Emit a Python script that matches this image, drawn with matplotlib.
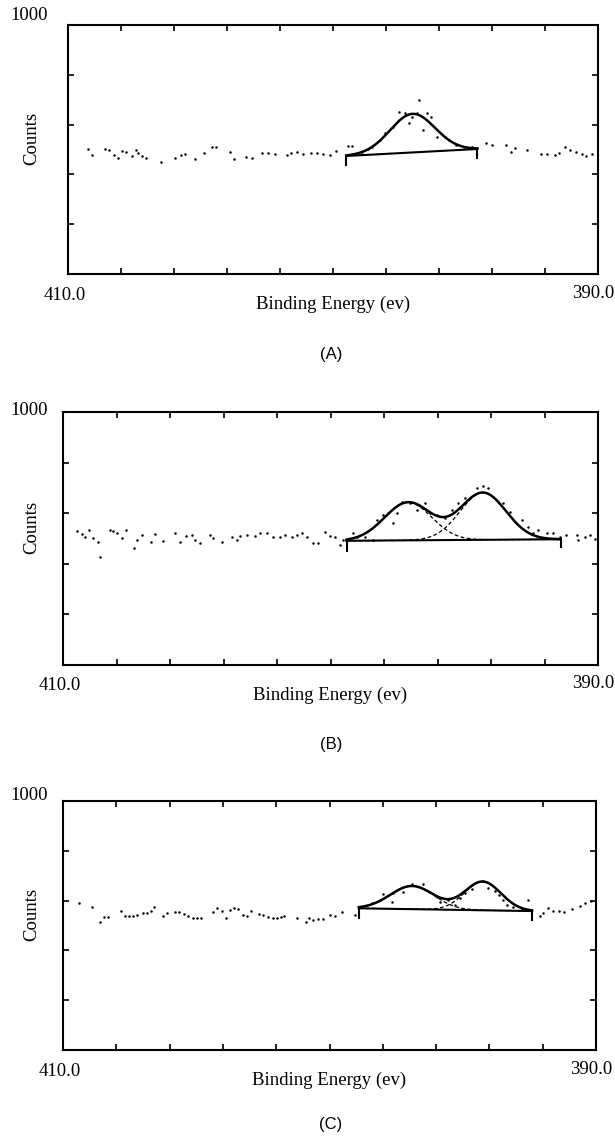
import matplotlib
matplotlib.use("Agg")
import matplotlib.pyplot as plt
import numpy as np

W, H = 615, 1136
SERIF = ["Liberation Serif", "DejaVu Serif"]
SANS = ["Liberation Sans", "DejaVu Sans"]

# ── raw spectrum points (energy, counts) ──
A_E = [409.23, 409.08, 408.59, 408.44, 408.26, 408.11, 407.97, 407.82, 407.59, 407.45,
       407.37, 407.22, 407.07, 406.48, 405.96, 405.74, 405.59, 405.22, 404.85, 404.55,
       404.40, 403.88, 403.73, 403.29, 403.07, 402.69, 402.47, 402.17, 401.73, 401.58,
       401.36, 401.14, 400.84, 400.62, 400.39, 400.10, 399.87, 399.43, 399.28, 398.91,
       398.69, 398.54, 398.24, 398.02, 397.72, 397.50, 397.28, 397.13, 397.01, 396.83,
       396.76, 396.61, 396.46, 396.31, 396.09, 395.79, 395.64, 395.35, 395.05, 394.75,
       394.23, 394.01, 393.49, 393.27, 393.12, 392.67, 392.15, 391.93, 391.63, 391.48,
       391.26, 391.04, 390.82, 390.59, 390.44, 390.22]
A_C = [502, 478, 502, 498, 478, 467, 495, 491, 474, 498,
       485, 474, 467, 451, 465, 478, 482, 461, 485, 509,
       511, 491, 461, 471, 467, 485, 487, 481, 478, 485,
       491, 482, 485, 485, 482, 478, 495, 515, 515, 481,
       501, 511, 538, 568, 592, 649, 648, 605, 632, 645,
       699, 578, 648, 632, 552, 552, 538, 518, 511, 511,
       525, 518, 518, 491, 505, 498, 482, 482, 478, 487,
       509, 498, 491, 482, 474, 482]

B_E = [409.49, 409.30, 409.18, 409.02, 408.87, 408.70, 408.62, 408.24, 408.12, 407.97,
       407.81, 407.64, 407.35, 407.25, 407.06, 406.72, 406.56, 406.25, 405.81, 405.63,
       405.40, 405.19, 405.07, 404.88, 404.50, 404.38, 404.07, 403.69, 403.51, 403.38,
       403.13, 402.82, 402.64, 402.39, 402.14, 401.89, 401.70, 401.45, 401.26, 401.08,
       400.89, 400.64, 400.46, 400.21, 400.02, 399.83, 399.64,
       399.52, 399.15, 399.02, 398.71, 398.40, 398.27, 398.02, 397.84, 397.65, 397.53,
       397.34, 397.03, 396.75, 396.47, 396.28, 396.03, 395.72, 395.47, 395.22, 394.97,
       394.54, 394.29, 394.10, 393.91, 393.54, 393.29, 392.85, 392.60, 392.42, 392.23,
       391.92, 391.67, 391.42, 391.20, 390.80, 390.74, 390.50, 390.30, 390.10]
B_C = [531, 518, 507, 534, 501, 487, 428, 534, 531, 520,
       501, 534, 461, 494, 514, 487, 518, 491, 520, 487,
       510, 514, 494, 481, 514, 501, 487, 505, 494, 510,
       514, 510, 520, 520, 507, 507, 514, 505, 514, 523,
       505, 483, 481, 527, 510, 505, 474,
       494, 520, 507, 507, 494, 573, 593, 600, 563, 602,
       645, 642, 613, 639, 600, 593, 580, 613, 639, 659,
       698, 708, 698, 665, 639, 606, 573, 544, 520, 534,
       520, 523, 507, 515, 514, 494, 505, 512, 500]

C_E = [409.39, 408.92, 408.61, 408.46, 408.30, 407.84, 407.67, 407.51, 407.36, 407.21,
       407.01, 406.86, 406.71, 406.59, 406.24, 406.09, 405.80, 405.64, 405.46, 405.30,
       405.11, 404.98, 404.83, 404.38, 404.23, 404.05, 403.88, 403.73, 403.58, 403.42,
       403.23, 403.08, 402.96, 402.63, 402.48, 402.30, 402.13, 401.96, 401.83, 401.71,
       401.23, 400.88, 400.76, 400.61, 400.42, 400.23, 399.98, 399.79, 399.54,
       399.04, 398.79, 398.42, 398.10, 397.98, 397.67, 397.61, 397.23, 396.92, 396.48,
       396.23, 395.98, 395.85, 395.54, 395.29, 395.10, 394.91, 394.66, 394.25, 394.04,
       393.79, 393.63, 393.48, 393.35, 393.10, 392.79, 392.54, 392.10, 391.98, 391.79,
       391.60, 391.40, 391.20, 390.90, 390.60, 390.40, 390.20]
C_C = [592, 573, 515, 535, 535, 558, 538, 538, 538, 542,
       549, 549, 559, 573, 538, 551, 555, 555, 546, 538,
       529, 529, 529, 555, 569, 559, 529, 562, 569, 565,
       542, 538, 559, 546, 542, 535, 531, 529, 535, 538,
       531, 515, 529, 522, 525, 525, 542, 538, 555,
       542, 573, 589, 602, 627, 596, 629, 636, 667, 667,
       636, 616, 596, 602, 582, 609, 629, 645, 680, 649,
       640, 622, 602, 582, 576, 565, 602, 538, 549, 569,
       559, 560, 555, 565, 580, 590, 600]

# ── fit: bracket ends (eV), background at ends, bracket drop, peaks (centre, height, sigma) ──
A_BRACKET = (399.5, 394.55)
A_BG = (474, 502)
A_DROP = (438, 466)
A_PEAKS = [(397.0, 155, 0.85)]

B_BRACKET = (399.4, 391.4)
B_BG = (491, 497)
B_DROP = (452, 466)
B_PEAKS = [(397.1, 150, 0.88), (394.3, 186, 0.86)]

C_BRACKET = (398.9, 392.4)
C_BG = (569, 558)
C_DROP = (530, 522)
C_PEAKS = [(396.9, 93, 0.82), (394.25, 115, 0.68)]

# panel boxes in pixels: left, top, right, bottom; then where "1000" and the tag sit
A_BOX = (68, 25, 598, 274)
B_BOX = (63, 412, 598, 665)
C_BOX = (63, 801, 596, 1050)
TOP_LABEL_Y = [16, 411, 795]
TAG_Y = [354, 745, 1124]


def gauss(e, c, h, s):
    return h * np.exp(-(e - c) ** 2 / (2 * s ** 2))


def px_text(fig, x, y, s, **kw):
    fig.text(x / W, 1 - y / H, s, **kw)


def panel(fig, box, energy, counts, bracket, bg, drop, peaks, tag, top_y, tag_y):
    l, t, r, b = box
    ax = fig.add_axes([l / W, 1 - b / H, (r - l) / W, (b - t) / H])
    ax.set_xlim(410, 390)
    ax.set_ylim(0, 1000)
    ax.set_xticks(np.arange(392, 409, 2))
    ax.set_yticks([200, 400, 600, 800])
    ax.tick_params(direction="in", length=4, width=1.2, top=True, right=True,
                   labelbottom=False, labelleft=False)
    for sp in ax.spines.values():
        sp.set_linewidth(1.5)

    ax.plot(energy, counts, "o", color="k", ms=1.8, mew=0)

    e = np.linspace(bracket[0], bracket[1], 300)
    base = np.interp(e, [bracket[1], bracket[0]], [bg[1], bg[0]])
    total = base.copy()
    for c, h, s in peaks:
        comp = gauss(e, c, h, s)
        total += comp
        if len(peaks) > 1:
            ax.plot(e, base + comp, color="k", lw=0.9, ls=(0, (3, 2)))
    ax.plot(e, total, color="k", lw=1.8)
    ax.plot(bracket, bg, color="k", lw=1.5)
    ax.plot([bracket[0], bracket[0]], [drop[0], bg[0]], color="k", lw=1.5)
    ax.plot([bracket[1], bracket[1]], [drop[1], bg[1]], color="k", lw=1.5)

    # labels around the box
    fs = 13.5
    px_text(fig, 48, top_y, "1000", family=SERIF, fontsize=fs, ha="right", va="center")
    px_text(fig, l - 3, b + 21, "410.0", family=SERIF, fontsize=fs, ha="center", va="center")
    px_text(fig, r - 5, b + 19, "390.0", family=SERIF, fontsize=fs, ha="center", va="center")
    px_text(fig, (l + r) / 2, b + 30, "Binding Energy (ev)", family=SERIF,
            fontsize=fs, ha="center", va="center")
    px_text(fig, 32, (t + b) / 2 - 11, "Counts", family=SERIF, fontsize=fs,
            rotation=90, ha="center", va="center")
    px_text(fig, 331, tag_y, tag, family=SANS, fontsize=12, ha="center", va="center")
    return ax


fig = plt.figure(figsize=(W / 100, H / 100), dpi=100)
panel(fig, A_BOX, A_E, A_C, A_BRACKET, A_BG, A_DROP, A_PEAKS, "(A)", TOP_LABEL_Y[0], TAG_Y[0])
panel(fig, B_BOX, B_E, B_C, B_BRACKET, B_BG, B_DROP, B_PEAKS, "(B)", TOP_LABEL_Y[1], TAG_Y[1])
panel(fig, C_BOX, C_E, C_C, C_BRACKET, C_BG, C_DROP, C_PEAKS, "(C)", TOP_LABEL_Y[2], TAG_Y[2])
fig.savefig("out.png", dpi=100)
